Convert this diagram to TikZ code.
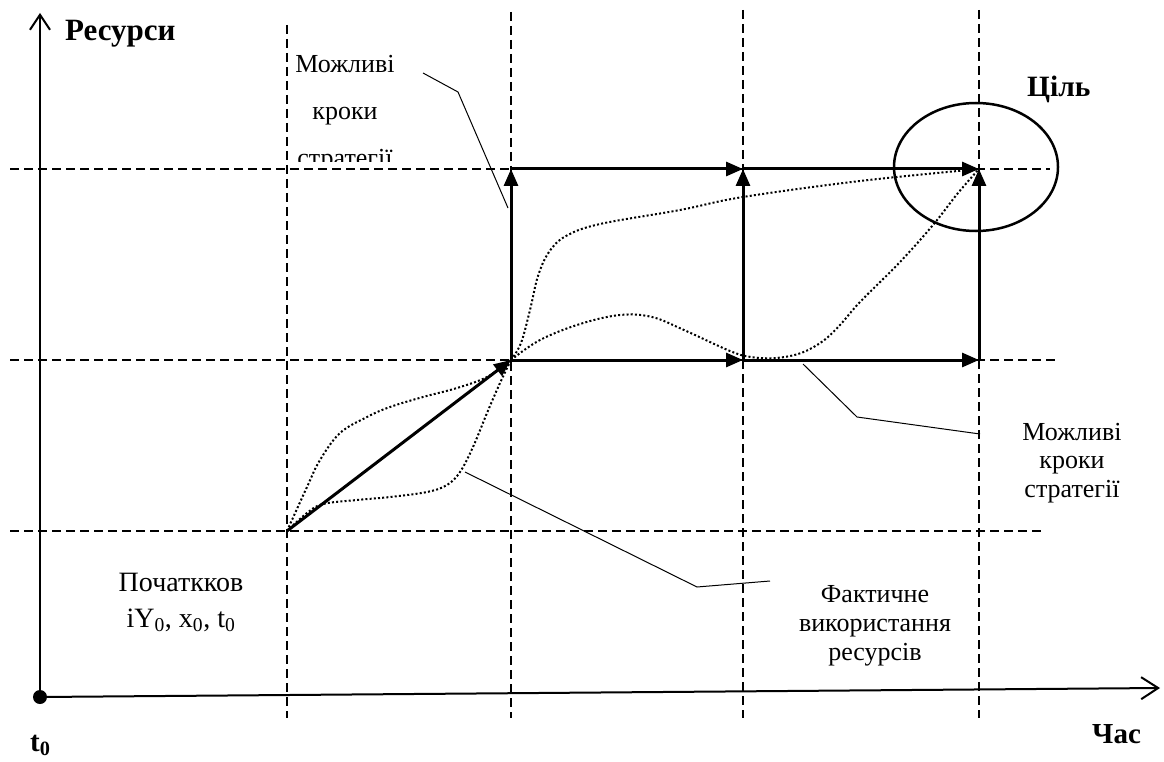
\documentclass[tikz,border=0pt]{standalone}
\usepackage{fontspec}
\setmainfont{Liberation Serif}
\usetikzlibrary{arrows.meta,shapes.geometric}
\tikzset{
  gridline/.style={line width=1.5pt, dash pattern=on 9pt off 5pt},
  dotcurve/.style={line width=2pt, dash pattern=on 2pt off 2.2pt},
  steparrow/.style={line width=3pt, -{Triangle[length=17pt,width=14pt]}},
  leader/.style={line width=1pt},
  axisline/.style={line width=2pt},
  lbl/.style={align=center, inner sep=0pt, anchor=base},
  boldlbl/.style={inner sep=0pt, anchor=base west},
}
\begin{document}
\begin{tikzpicture}[x=1pt,y=-1pt]
\path[use as bounding box] (0,0) rectangle (1164,762);

% key points
\coordinate (A) at (287,531);
\coordinate (B) at (511,360);
\coordinate (C) at (743,360);
\coordinate (D) at (979,360);
\coordinate (E) at (511,169);
\coordinate (F) at (743,169);
\coordinate (G) at (979,169);

% dashed grid
\draw[gridline] (287,25) -- (287,718);
\draw[gridline] (511,12) -- (511,718);
\draw[gridline] (743,10) -- (743,718);
\draw[gridline] (979,10) -- (979,718);
\draw[gridline] (10,169) -- (1050,169);
\draw[gridline] (10,360) -- (1055,360);
\draw[gridline] (10,531) -- (1045,531);

% dotted trajectories
\draw[dotcurve] plot[smooth, tension=0.6] coordinates {(A) (307,487) (320,460) (340,433) (367,417) (390,407) (423,397) (457,388) (487,377) (B)};
\draw[dotcurve] plot[smooth, tension=0.6] coordinates {(A) (307,513) (323,504) (357,500) (390,497) (427,492) (447,485) (460,472) (473,447) (487,413) (500,383) (B)};
\draw[dotcurve] plot[smooth, tension=0.6] coordinates {(B) (521,343) (530,310) (538,276) (549,252) (566,236) (600,224) (680,210) (743,197) (860,181) (G)};
\draw[dotcurve] plot[smooth, tension=0.6] coordinates {(B) (540,340) (580,324) (620,315) (652,317) (684,330) (730,351) (751,357) (776,358) (801,353) (823,341) (840,325) (860,302) (900,262) (933,225) (958,193) (G)};

% strategy steps
\draw[steparrow] (A) -- (B);
\draw[steparrow] (B) -- (C);
\draw[steparrow] (C) -- (D);
\draw[steparrow] (B) -- (E);
\draw[steparrow] (C) -- (F);
\draw[steparrow] (D) -- (G);
\draw[steparrow] (E) -- (F);
\draw[steparrow] (F) -- (G);

% goal ellipse
\node[draw, ellipse, line width=2.5pt, minimum width=164pt, minimum height=128pt, inner sep=0pt] (goal) at (976,167) {};

% axes
\coordinate (O) at (40,697);
\coordinate (Ytip) at (40,13);
\coordinate (Xtip) at (1160,688);
\draw[axisline, -{Straight Barb[length=15pt,width=20pt]}] (O) -- (Ytip);
\draw[axisline, -{Straight Barb[length=17pt,width=22pt]}] (O) -- (Xtip);
\fill (O) circle[radius=7pt];

% leaders
\coordinate (L1a) at (423,73);
\coordinate (L1b) at (458,92);
\coordinate (L1c) at (508,208);
\draw[leader] (L1a) -- (L1b) -- (L1c);
\coordinate (L2a) at (803,364);
\coordinate (L2b) at (857,417);
\coordinate (L2c) at (980,434);
\draw[leader] (L2a) -- (L2b) -- (L2c);
\coordinate (L3a) at (465,472);
\coordinate (L3b) at (697,587);
\coordinate (L3c) at (770,581);
\draw[leader] (L3a) -- (L3b) -- (L3c);

% labels
\node[boldlbl, font=\fontsize{31pt}{31pt}\selectfont\bfseries] (ylabel) at (65,41) {Ресурси};
\node[boldlbl, font=\fontsize{29.5pt}{29.5pt}\selectfont\bfseries] (goallabel) at (1027,97) {Ціль};
\node[boldlbl, font=\fontsize{29pt}{29pt}\selectfont\bfseries] (xlabel) at (1092,743) {Час};
\node[boldlbl, font=\fontsize{29pt}{29pt}\selectfont\bfseries] (t0label) at (30,751) {t\textsubscript{0}};

\begin{scope}
  \clip (250,0) rectangle (500,162);
  \node[lbl, font=\fontsize{26pt}{47pt}\selectfont] (stepsTop) at (345,167) {Можливі\\кроки\\стратегії};
\end{scope}
\node[lbl, font=\fontsize{26pt}{28.5pt}\selectfont] (stepsRight) at (1072,497) {Можливі\\кроки\\стратегії};
\node[lbl, font=\fontsize{26pt}{29pt}\selectfont] (fact) at (875,660) {Фактичне\\використання\\ресурсів};
\node[lbl, font=\fontsize{28pt}{36pt}\selectfont] (start) at (181,627) {Початкков\\iY\textsubscript{0}, x\textsubscript{0}, t\textsubscript{0}};
\end{tikzpicture}
\end{document}
